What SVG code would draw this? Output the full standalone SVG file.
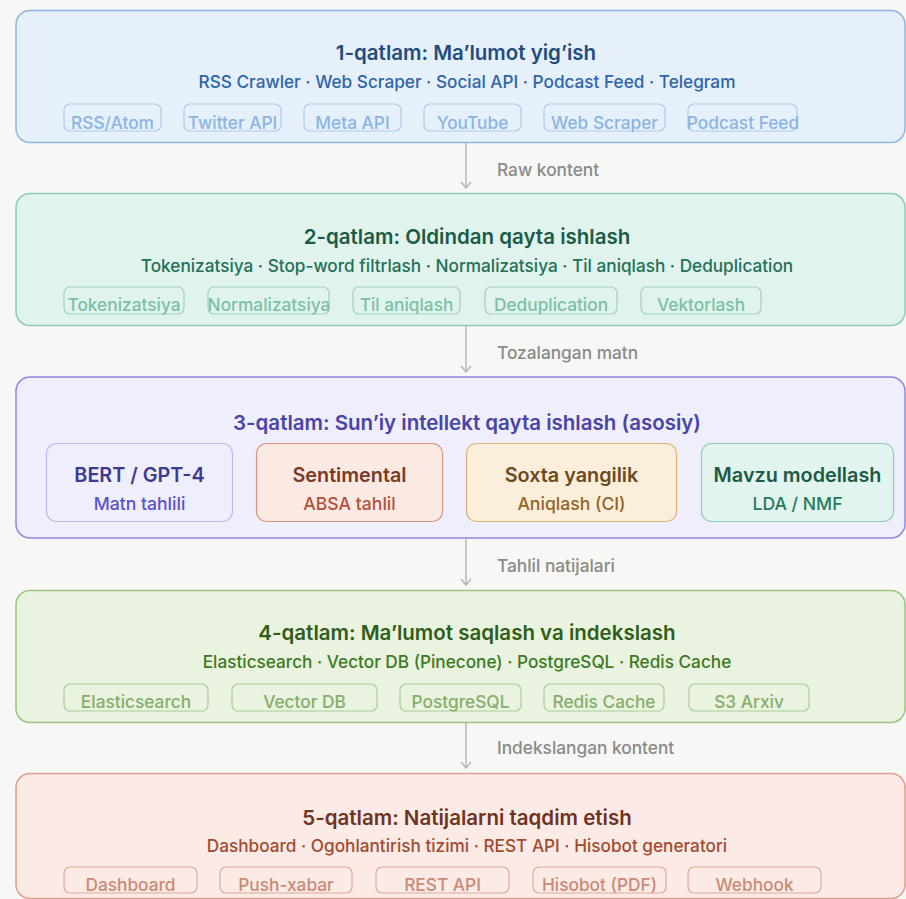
<svg xmlns="http://www.w3.org/2000/svg" width="906" height="899" viewBox="0 0 906 899">
<defs>
<marker id="arr" viewBox="0 0 12 12" refX="11" refY="6" markerWidth="12" markerHeight="12" markerUnits="userSpaceOnUse" orient="auto">
<path d="M5,1 L11,6 L5,11" fill="none" stroke="#b3b3b0" stroke-width="1.4"/>
</marker>
</defs>
<style>
text{font-family:Inter,"Noto Sans","Liberation Sans",sans-serif;text-anchor:middle}
.title{font-size:20.5px;font-weight:600}
.sub{font-size:17.2px;font-weight:500}
.chip{font-size:17.3px;font-weight:500}
.lbl{font-size:17.3px;font-weight:500;fill:#8a8a88;text-anchor:start}
.nt{font-size:19.8px;font-weight:600}
.ns{font-size:17.6px;font-weight:500}
.conn line{stroke:#b3b3b0;stroke-width:1.4;marker-end:url(#arr)}
</style>
<rect x="0" y="0" width="906" height="899" fill="#f7f7f5"/>

<g class="conn">
<line x1="466" y1="143" x2="466" y2="188"/>
<line x1="466" y1="326" x2="466" y2="372"/>
<line x1="466" y1="539" x2="466" y2="585"/>
<line x1="466" y1="723" x2="466" y2="768"/>
<text class="lbl" x="497" y="176">Raw kontent</text>
<text class="lbl" x="497" y="359">Tozalangan matn</text>
<text class="lbl" x="497" y="572">Tahlil natijalari</text>
<text class="lbl" x="497" y="754">Indekslangan kontent</text>
</g>

<g id="layer1">
<rect x="16" y="10.5" width="889" height="132" rx="14" fill="#e6f0fb" stroke="#90b6e0" stroke-width="1.5"/>
<text class="title" x="466" y="60" fill="#1f4d80">1-qatlam: Ma’lumot yig’ish</text>
<text class="sub" x="467" y="88" fill="#2e65a8">RSS Crawler · Web Scraper · Social API · Podcast Feed · Telegram</text>
<g fill="none" stroke="#aecbec" stroke-width="1.2">
<rect x="64" y="104" width="97" height="27" rx="6"/>
<rect x="184" y="104" width="97" height="27" rx="6"/>
<rect x="304" y="104" width="97" height="27" rx="6"/>
<rect x="424" y="104" width="97" height="27" rx="6"/>
<rect x="544" y="104" width="121" height="27" rx="6"/>
<rect x="688" y="104" width="109" height="27" rx="6"/>
</g>
<g class="chip" fill="#8ab4e4">
<text x="112.5" y="129">RSS/Atom</text>
<text x="232.5" y="129">Twitter API</text>
<text x="352.5" y="129">Meta API</text>
<text x="472.5" y="129">YouTube</text>
<text x="604.5" y="129">Web Scraper</text>
<text x="743" y="129">Podcast Feed</text>
</g>
</g>

<g id="layer2">
<rect x="16" y="193.5" width="889" height="132" rx="14" fill="#e0f3ed" stroke="#8fcab5" stroke-width="1.5"/>
<text class="title" x="467" y="244" fill="#1b5b45">2-qatlam: Oldindan qayta ishlash</text>
<text class="sub" x="467" y="272" fill="#237055">Tokenizatsiya · Stop-word filtrlash · Normalizatsiya · Til aniqlash · Deduplication</text>
<g fill="none" stroke="#9fd3c0" stroke-width="1.2">
<rect x="64" y="287" width="120" height="27" rx="6"/>
<rect x="208" y="287" width="121" height="27" rx="6"/>
<rect x="353" y="287" width="107" height="27" rx="6"/>
<rect x="485" y="287" width="132" height="27" rx="6"/>
<rect x="641" y="287" width="120" height="27" rx="6"/>
</g>
<g class="chip" fill="#7cc0a6">
<text x="124" y="311">Tokenizatsiya</text>
<text x="269" y="311">Normalizatsiya</text>
<text x="406.5" y="311">Til aniqlash</text>
<text x="551" y="311">Deduplication</text>
<text x="701" y="311">Vektorlash</text>
</g>
</g>

<g id="layer3">
<rect x="16" y="377" width="889" height="161" rx="14" fill="#efeefc" stroke="#8f88e0" stroke-width="1.5"/>
<text class="title" x="467" y="430" fill="#4a43a8">3-qatlam: Sun’iy intellekt qayta ishlash (asosiy)</text>
</g>
<g id="bert">
<rect x="46.5" y="443.5" width="186" height="78" rx="10" fill="#eeeefd" stroke="#bcb8f0" stroke-width="1.2"/>
<text class="nt" x="139.5" y="482" fill="#3e3a8f">BERT / GPT-4</text>
<text class="ns" x="139.5" y="510" fill="#5a52c9">Matn tahlili</text>
</g>
<g id="sentimental">
<rect x="256.5" y="443.5" width="186" height="78" rx="10" fill="#fbe9e4" stroke="#d9957f" stroke-width="1.2"/>
<text class="nt" x="349.5" y="482" fill="#7a3a26">Sentimental</text>
<text class="ns" x="349.5" y="510" fill="#b5513a">ABSA tahlil</text>
</g>
<g id="soxta">
<rect x="466.5" y="443.5" width="210" height="78" rx="10" fill="#fbeedb" stroke="#dcb47a" stroke-width="1.2"/>
<text class="nt" x="571.5" y="482" fill="#6b4a1e">Soxta yangilik</text>
<text class="ns" x="571.5" y="510" fill="#946326">Aniqlash (CI)</text>
</g>
<g id="mavzu">
<rect x="701.5" y="443.5" width="192" height="78" rx="10" fill="#e2f4ee" stroke="#8fcbb7" stroke-width="1.2"/>
<text class="nt" x="797.5" y="482" fill="#1c5b45">Mavzu modellash</text>
<text class="ns" x="797.5" y="510" fill="#267a5c">LDA / NMF</text>
</g>

<g id="layer4">
<rect x="16" y="590.5" width="889" height="132" rx="14" fill="#e9f3df" stroke="#9cc483" stroke-width="1.5"/>
<text class="title" x="467" y="640" fill="#2f5e1a">4-qatlam: Ma’lumot saqlash va indekslash</text>
<text class="sub" x="467" y="668" fill="#3c7a22">Elasticsearch · Vector DB (Pinecone) · PostgreSQL · Redis Cache</text>
<g fill="none" stroke="#aacf95" stroke-width="1.2">
<rect x="64" y="684" width="144" height="27" rx="6"/>
<rect x="232" y="684" width="145" height="27" rx="6"/>
<rect x="400" y="684" width="121" height="27" rx="6"/>
<rect x="544" y="684" width="120" height="27" rx="6"/>
<rect x="689" y="684" width="120" height="27" rx="6"/>
</g>
<g class="chip" fill="#86ad6c">
<text x="136" y="708">Elasticsearch</text>
<text x="304.5" y="708">Vector DB</text>
<text x="460.5" y="708">PostgreSQL</text>
<text x="604" y="708">Redis Cache</text>
<text x="749" y="708">S3 Arxiv</text>
</g>
</g>

<g id="layer5">
<rect x="16" y="773.5" width="889" height="125" rx="14" fill="#fbeae5" stroke="#dca08e" stroke-width="1.5"/>
<text class="title" x="467" y="825" fill="#6e3322">5-qatlam: Natijalarni taqdim etish</text>
<text class="sub" x="467" y="852" fill="#a34a30">Dashboard · Ogohlantirish tizimi · REST API · Hisobot generatori</text>
<g fill="none" stroke="#dfaa9a" stroke-width="1.2">
<rect x="64" y="867" width="133" height="26" rx="6"/>
<rect x="220" y="867" width="132" height="26" rx="6"/>
<rect x="376" y="867" width="133" height="26" rx="6"/>
<rect x="533" y="867" width="133" height="26" rx="6"/>
<rect x="688" y="867" width="133" height="26" rx="6"/>
</g>
<g class="chip" fill="#c98a76">
<text x="130.5" y="891">Dashboard</text>
<text x="286" y="891">Push-xabar</text>
<text x="442.5" y="891">REST API</text>
<text x="599.5" y="891">Hisobot (PDF)</text>
<text x="754.5" y="891">Webhook</text>
</g>
</g>
</svg>
